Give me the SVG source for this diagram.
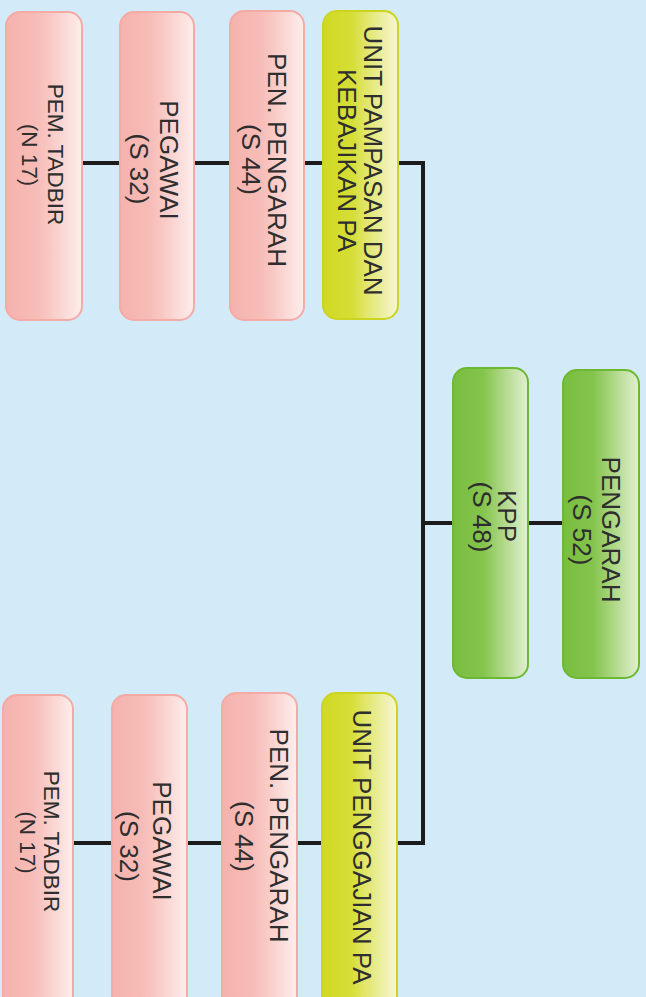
<svg xmlns="http://www.w3.org/2000/svg" width="646" height="997" viewBox="0 0 646 997">
<style>
.t{font-family:"Liberation Sans",Arial,sans-serif;font-size:26px;fill:#2e2e2e;text-anchor:middle}
.s{font-size:22.5px}
.pink{fill:url(#gp);stroke:#f4aaa5;stroke-width:2}
.green{fill:url(#gg);stroke:#6db832;stroke-width:2}
.yel{fill:url(#gy);stroke:#cbd420;stroke-width:2}
.ln{fill:none;stroke:#1c1c1c;stroke-width:4;stroke-linejoin:miter}
</style>
<defs>
<linearGradient id="gp" x1="0" y1="0" x2="1" y2="0">
<stop offset="0" stop-color="#f5b2ad"/>
<stop offset="0.4" stop-color="#f7bcb7"/>
<stop offset="0.55" stop-color="#f8c6c2"/>
<stop offset="1" stop-color="#fdeeec"/>
</linearGradient>
<linearGradient id="gg" x1="0" y1="0" x2="1" y2="0">
<stop offset="0" stop-color="#78be3e"/>
<stop offset="0.4" stop-color="#84c44d"/>
<stop offset="0.55" stop-color="#9ccf6c"/>
<stop offset="1" stop-color="#e2f0d2"/>
</linearGradient>
<linearGradient id="gy" x1="0" y1="0" x2="1" y2="0">
<stop offset="0" stop-color="#d0da22"/>
<stop offset="0.4" stop-color="#d6de38"/>
<stop offset="0.55" stop-color="#e0e564"/>
<stop offset="1" stop-color="#f6f6d4"/>
</linearGradient>
</defs>
<rect width="646" height="997" fill="#d3eaf9"/>
<g id="connectors">
<path class="ln" d="M398,163 H423 V843 H397"/>
<path class="ln" d="M82,163 H120 M194,163 H230 M304,163 H323"/>
<path class="ln" d="M73,843 H112 M187,843 H222 M297,843 H322"/>
<path class="ln" d="M423,523 H453 M528,523 H563"/>
</g>
<g id="t_pem">
<rect class="pink" x="6" y="12" width="76" height="308" rx="14"/>
<text class="t s" transform="translate(48,154.5) rotate(90)">PEM. TADBIR</text>
<text class="t s" transform="translate(22,155) rotate(90)">(N 17)</text>
</g>
<g id="t_peg">
<rect class="pink" x="120" y="12" width="74" height="308" rx="14"/>
<text class="t" transform="translate(160,160) rotate(90)">PEGAWAI</text>
<text class="t" transform="translate(130,169) rotate(90)">(S 32)</text>
</g>
<g id="t_pen">
<rect class="pink" x="230" y="11" width="74" height="309" rx="14"/>
<text class="t" transform="translate(268,160) rotate(90)">PEN. PENGARAH</text>
<text class="t" transform="translate(242,159.5) rotate(90)">(S 44)</text>
</g>
<g id="t_unit">
<rect class="yel" x="323" y="11" width="75" height="308" rx="14"/>
<text class="t" transform="translate(364,160.5) rotate(90)">UNIT PAMPASAN DAN</text>
<text class="t" transform="translate(338,160.5) rotate(90)">KEBAJIKAN PA</text>
</g>
<g id="kpp">
<rect class="green" x="453" y="368" width="75" height="310" rx="14"/>
<text class="t" transform="translate(498,516) rotate(90)">KPP</text>
<text class="t" transform="translate(473,517) rotate(90)">(S 48)</text>
</g>
<g id="pengarah">
<rect class="green" x="563" y="370" width="76" height="308" rx="14"/>
<text class="t" transform="translate(602,529.5) rotate(90)">PENGARAH</text>
<text class="t" transform="translate(573,530) rotate(90)">(S 52)</text>
</g>
<g id="b_pem">
<rect class="pink" x="3" y="695" width="70" height="320" rx="14"/>
<text class="t s" transform="translate(44,841.5) rotate(90)">PEM. TADBIR</text>
<text class="t s" transform="translate(20,842.5) rotate(90)">(N 17)</text>
</g>
<g id="b_peg">
<rect class="pink" x="112" y="695" width="75" height="320" rx="14"/>
<text class="t" transform="translate(153,841) rotate(90)">PEGAWAI</text>
<text class="t" transform="translate(120,846.5) rotate(90)">(S 32)</text>
</g>
<g id="b_pen">
<rect class="pink" x="222" y="693" width="75" height="322" rx="14"/>
<text class="t" transform="translate(270,835.5) rotate(90)">PEN. PENGARAH</text>
<text class="t" transform="translate(235,836.5) rotate(90)">(S 44)</text>
</g>
<g id="b_unit">
<rect class="yel" x="322" y="693" width="75" height="322" rx="14"/>
<text class="t" transform="translate(353,847) rotate(90)">UNIT PENGGAJIAN PA</text>
</g>
</svg>
